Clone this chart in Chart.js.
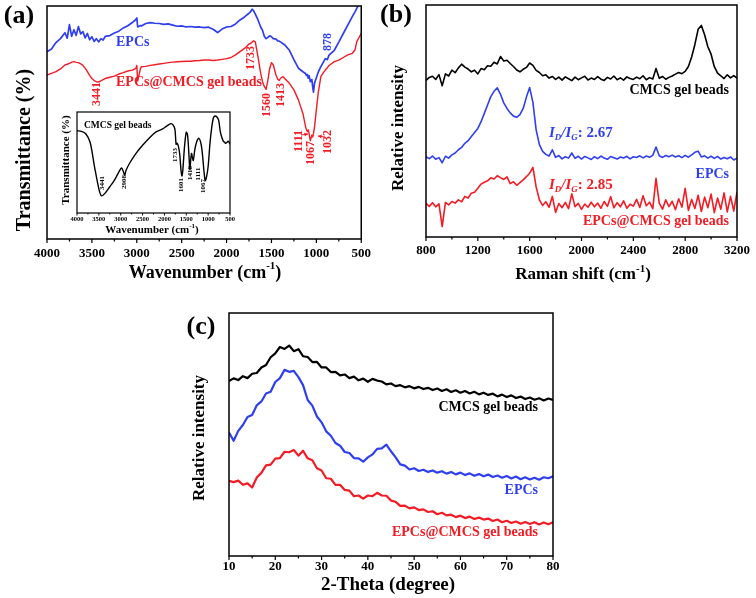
<!DOCTYPE html>
<html>
<head>
<meta charset="utf-8">
<title>FTIR, Raman and XRD of EPCs and EPCs@CMCS gel beads</title>
<script src="https://cdn.jsdelivr.net/npm/chart.js@4.4.1/dist/chart.umd.min.js"></script>
<style>
  body { margin: 0; background: #fff; }
  #fig { position: relative; width: 756px; height: 598px; overflow: hidden; }
  #fig canvas { position: absolute; }
</style>
</head>
<body>
<div id="fig">
  <canvas id="ftir" width="378" height="292" style="left:0;top:0"></canvas>
  <canvas id="inset" width="182" height="140" style="left:55px;top:100px"></canvas>
  <canvas id="raman" width="378" height="292" style="left:378px;top:0"></canvas>
  <canvas id="xrd" width="400" height="298" style="left:170px;top:300px"></canvas>
</div>
<script>
// (a) FTIR, transmittance on a 0-100 frame scale
const ftirWn = [4000, 3950, 3900, 3850, 3800, 3775, 3750, 3725, 3700, 3675,
  3650, 3625, 3600, 3575, 3550, 3525, 3500, 3475, 3450, 3425,
  3400, 3375, 3350, 3300, 3250, 3200, 3150, 3100, 3050, 3010,
  3000, 2990, 2960, 2950, 2900, 2850, 2800, 2750, 2700, 2650,
  2600, 2550, 2500, 2450, 2400, 2350, 2300, 2250, 2200, 2150,
  2100, 2050, 2000, 1950, 1900, 1850, 1800, 1750, 1733, 1715,
  1700, 1680, 1650, 1620, 1600, 1580, 1560, 1540, 1520, 1500,
  1480, 1450, 1430, 1413, 1400, 1370, 1350, 1300, 1250, 1200,
  1150, 1120, 1111, 1100, 1090, 1080, 1067, 1050, 1040, 1032,
  1020, 1000, 980, 950, 920, 900, 878, 860, 850, 800,
  750, 700, 650, 600, 570, 550, 520, 500];
const ftirEpcs = [80.4, 81.5, 84.3, 86.0, 88.5, 86.2, 92.0, 87.0, 89.8, 87.4,
  91.2, 88.0, 89.0, 86.3, 88.2, 85.5, 86.8, 84.8, 86.0, 84.6,
  85.9, 85.4, 87.0, 87.3, 88.4, 89.2, 90.6, 91.5, 92.9, 94.2,
  94.9, 91.0, 91.6, 91.4, 92.5, 92.9, 92.6, 92.5, 92.1, 92.3,
  91.8, 91.3, 91.5, 91.0, 91.2, 90.9, 91.0, 90.7, 90.9, 90.0,
  88.6, 90.1, 91.0, 91.2, 92.3, 94.0, 95.3, 96.9, 97.5, 98.6,
  98.0, 96.5, 94.0, 91.0, 89.6, 87.0, 86.0, 86.5, 87.2, 86.8,
  86.0, 85.8, 85.0, 84.9, 84.6, 83.8, 83.2, 81.0, 77.0, 73.3,
  71.8, 71.0, 70.2, 70.6, 69.0, 70.0, 67.5, 68.5, 65.0, 63.0,
  67.0, 69.2, 71.5, 74.0, 76.0, 77.4, 77.0, 78.8, 79.2, 81.0,
  84.5, 88.2, 91.8, 95.4, 97.5, 99.0, 101.0, 103.0];
const ftirBeads = [70.4, 71.1, 71.8, 73.0, 74.7, 75.0, 75.4, 75.9, 76.1, 75.8,
  75.7, 75.2, 74.5, 73.3, 71.8, 70.2, 68.9, 68.0, 67.5, 67.4,
  67.9, 68.4, 68.9, 69.4, 69.9, 70.8, 71.4, 72.1, 72.5, 73.2,
  74.5, 67.8, 73.0, 73.9, 74.1, 74.5, 74.8, 75.1, 75.4, 75.7,
  75.9, 76.1, 76.2, 76.3, 76.3, 76.5, 76.6, 76.8, 76.8, 76.6,
  76.8, 77.1, 77.4, 77.9, 79.0, 80.4, 81.8, 83.7, 83.9, 84.5,
  85.1, 84.6, 78.2, 71.1, 67.5, 65.5, 64.2, 68.1, 73.2, 75.7,
  74.8, 70.4, 68.6, 68.0, 69.0, 69.7, 68.8, 66.8, 64.0, 59.7,
  53.9, 48.2, 47.0, 46.1, 46.8, 45.0, 42.2, 44.6, 43.8, 45.3,
  48.2, 55.4, 62.5, 69.7, 71.5, 72.5, 73.5, 74.4, 74.7, 76.1,
  76.8, 77.9, 79.0, 79.7, 81.1, 84.7, 86.8, 88.3];

// inset: CMCS gel beads
const insetWn = [4000, 3900, 3800, 3700, 3600, 3500, 3441, 3350, 3250, 3150,
  3050, 2980, 2940, 2908, 2880, 2800, 2650, 2500, 2350, 2200,
  2050, 1950, 1850, 1800, 1760, 1733, 1710, 1680, 1650, 1620,
  1601, 1580, 1540, 1500, 1470, 1440, 1418, 1400, 1380, 1360,
  1340, 1300, 1250, 1210, 1170, 1140, 1111, 1090, 1067, 1040,
  1000, 960, 920, 880, 840, 800, 760, 720, 680, 650,
  620, 600, 570, 540, 520, 500];
const insetCmcs = [81.5, 80.8, 78.5, 70, 46, 24, 17, 20, 26, 32,
  40, 44.5, 41, 37.5, 42, 49, 59, 67, 74, 80,
  83, 86, 88.5, 87, 83, 68, 69, 66, 58, 42,
  36.5, 42, 66, 80, 77, 58, 43, 52, 59, 55,
  52, 64, 72, 74, 70, 62, 49, 39, 32, 35,
  46, 68, 84, 94, 96, 95, 92, 80, 74, 71,
  70, 69, 70, 71, 70, 68];
const ftirPeaks = ['3441', '1733', '1560', '1413', '1111', '1067', '1032'];
const insetPeaks = ['3441', '2908', '1733', '1601', '1418', '1111', '1067'];

// (b) Raman, every 25 cm-1 from 800 to 3200
const ramanFrom = 800, ramanStep = 25;
const ramanCmcs = [67.5, 68.8, 69.3, 67.9, 70.0, 65.2, 70.3, 69.4, 71.9, 70.8,
  72.9, 74.5, 73.2, 72.4, 71.2, 71.9, 70.3, 72.6, 72.1, 73.8,
  73.6, 75.3, 74.6, 77.8, 75.9, 76.2, 74.8, 73.5, 72.0, 71.2,
  72.3, 73.1, 75.0, 74.0, 71.8, 70.9, 69.5, 69.9, 68.5, 69.2,
  67.9, 68.9, 67.6, 69.0, 68.2, 67.4, 68.9, 67.8, 68.6, 69.3,
  67.7, 68.5, 67.9, 69.1, 68.0, 67.5, 68.8, 68.1, 69.4, 67.8,
  68.6, 67.6, 69.0, 68.3, 67.9, 68.9, 68.2, 69.5, 67.8, 68.7,
  68.1, 72.6, 68.4, 69.2, 68.0, 68.8, 69.4, 70.2, 70.9, 70.4,
  71.4, 73.5, 77.6, 83.0, 89.5, 91.2, 87.2, 82.0, 78.8, 73.4,
  70.6, 69.5, 68.3, 69.9, 68.6, 69.6, 68.5];
const ramanEpcs = [34.6, 33.8, 34.9, 33.5, 34.2, 32.0, 34.8, 34.0, 35.4, 36.2,
  37.6, 38.6, 40.4, 41.5, 43.3, 45.0, 46.8, 49.7, 53.3, 56.9,
  60.5, 62.8, 64.3, 61.5, 57.8, 55.4, 53.5, 52.1, 51.6, 52.7,
  55.4, 60.3, 64.4, 58.0, 46.2, 39.8, 36.9, 35.6, 34.9, 37.6,
  34.3, 35.1, 33.7, 34.6, 34.0, 36.2, 33.9, 34.8, 33.6, 34.7,
  34.1, 33.4, 34.6, 33.8, 34.9, 34.0, 33.5, 34.7, 34.2, 33.6,
  34.5, 34.0, 34.8, 33.7, 34.6, 34.3, 35.0, 34.1, 34.9, 34.4,
  35.2, 38.8, 35.0, 34.3, 35.1, 34.6, 35.3, 34.5, 35.0, 34.2,
  35.2, 34.4, 35.4, 36.5, 37.0, 34.5, 35.0, 34.0, 34.8, 33.9,
  34.7, 33.6, 34.3, 33.7, 34.5, 33.2, 34.0];
const ramanBeads = [14.5, 13.2, 14.8, 13.0, 14.3, 4.5, 14.9, 13.8, 15.3, 14.6,
  16.0, 15.2, 17.5, 16.8, 18.9, 19.3, 21.0, 22.8, 23.6, 24.2,
  25.5, 25.0, 26.4, 25.6, 24.8, 25.9, 23.0, 23.8, 22.3, 23.4,
  24.6, 26.0, 27.5, 30.0, 21.6, 16.0, 13.6, 15.2, 12.8, 17.5,
  10.6, 14.4, 12.6, 14.9, 12.2, 18.6, 13.1, 14.5, 11.9, 14.2,
  12.8, 15.0, 13.0, 14.6, 12.4, 15.3, 13.2, 17.4, 12.6, 14.8,
  13.0, 15.6, 12.4, 14.1, 13.3, 16.2, 12.7, 17.8, 13.5, 15.0,
  12.2, 25.3, 14.6, 12.0, 16.0, 13.1, 15.4, 11.8, 16.5, 12.9,
  21.0, 11.5, 16.2, 12.3, 18.0, 11.0, 17.2, 12.6, 18.5, 10.5,
  16.8, 12.0, 19.0, 10.8, 17.5, 11.2, 19.4];

// (c) XRD, every 1 degree from 10 to 80
const xrdFrom = 10, xrdStep = 1;
const xrdCmcs = [72.0, 73.1, 72.4, 74.0, 73.2, 75.0, 75.3, 77.6, 78.6, 81.8,
  83.4, 86.0, 85.2, 86.6, 84.3, 85.1, 82.2, 81.9, 79.8, 79.9,
  77.6, 77.6, 75.7, 75.8, 74.3, 74.7, 73.2, 73.8, 72.3, 73.0,
  71.7, 72.9, 72.2, 71.8, 70.6, 71.0, 69.9, 70.3, 69.4, 69.9,
  69.0, 69.6, 68.7, 69.2, 68.3, 68.9, 67.9, 68.6, 67.5, 68.2,
  67.2, 67.9, 66.9, 67.6, 66.5, 67.2, 66.3, 66.8, 65.7, 66.4,
  65.4, 66.1, 65.0, 65.6, 64.6, 65.2, 64.3, 64.9, 64.0, 64.8,
  64.2];
const xrdEpcs = [50.8, 47.4, 51.5, 53.9, 57.2, 58.0, 62.0, 63.6, 66.9, 67.6,
  71.6, 73.2, 76.6, 75.8, 76.2, 73.6, 70.3, 64.2, 61.9, 57.4,
  55.0, 51.3, 49.5, 46.5, 45.4, 42.8, 42.4, 40.3, 40.2, 38.8,
  40.6, 41.8, 44.1, 44.3, 45.8, 43.1, 40.6, 37.7, 37.2, 35.6,
  36.1, 35.0, 35.5, 34.6, 35.2, 34.3, 34.9, 33.9, 34.6, 33.6,
  34.3, 33.3, 34.0, 33.0, 33.7, 32.8, 33.5, 32.5, 33.1, 32.2,
  32.9, 31.9, 32.7, 31.6, 32.4, 31.5, 32.2, 31.4, 32.4, 32.0,
  32.8];
const xrdBeads = [30.9, 30.4, 31.0, 29.3, 29.9, 28.2, 32.3, 34.2, 37.3, 37.6,
  40.1, 40.3, 42.9, 42.7, 43.6, 41.3, 43.3, 40.2, 39.4, 36.1,
  35.2, 32.0, 31.8, 29.3, 29.3, 27.2, 26.9, 24.6, 24.9, 23.6,
  24.9, 24.6, 26.0, 24.9, 24.8, 22.8, 22.3, 20.6, 20.7, 19.6,
  20.0, 18.9, 19.2, 18.1, 18.4, 17.2, 17.8, 16.7, 17.0, 16.0,
  16.6, 15.6, 16.2, 15.2, 15.8, 15.0, 15.4, 14.4, 15.0, 13.9,
  14.5, 13.6, 14.2, 13.3, 14.0, 13.2, 13.9, 13.0, 13.8, 13.1,
  13.9];

const serif = "'Liberation Serif', 'Times New Roman', serif";
const BLUE = '#2f3ff0', RED = '#f31b24', BLACK = '#000';

const grid = (from, step, n) => Array.from({ length: n }, (_, i) => from + i * step);
const ramanShift = grid(ramanFrom, ramanStep, ramanCmcs.length);
const twoTheta = grid(xrdFrom, xrdStep, xrdCmcs.length);

// text with optional italic / sub / superscript pieces
function drawNote(ctx, n, origin) {
  ctx.save();
  ctx.fillStyle = n.color || BLACK;
  ctx.strokeStyle = n.color || BLACK;
  if (n.arrow) {
    const [x1, y1, x2, y2] = n.arrow.map((v, i) => v - origin[i % 2]);
    const ang = Math.atan2(y2 - y1, x2 - x1);
    ctx.lineWidth = 1;
    ctx.beginPath(); ctx.moveTo(x1, y1); ctx.lineTo(x2, y2); ctx.stroke();
    ctx.beginPath();
    ctx.moveTo(x2, y2);
    ctx.lineTo(x2 - 4 * Math.cos(ang - 0.5), y2 - 4 * Math.sin(ang - 0.5));
    ctx.lineTo(x2 - 4 * Math.cos(ang + 0.5), y2 - 4 * Math.sin(ang + 0.5));
    ctx.fill();
    ctx.restore();
    return;
  }
  const segs = typeof n.t === 'string' ? [{ s: n.t }] : n.t;
  const size = n.size;
  const fontOf = g => (g.it ? 'italic ' : '') + 'bold ' +
    ((g.sub || g.sup) ? Math.round(size * 0.62) : size) + 'px ' + serif;
  let total = 0;
  segs.forEach(g => { ctx.font = fontOf(g); g.w = ctx.measureText(g.s).width; total += g.w; });
  ctx.translate(n.x - origin[0], n.y - origin[1]);
  if (n.rot) ctx.rotate(n.rot * Math.PI / 180);
  ctx.textBaseline = 'middle';
  let x = n.align === 'left' ? 0 : n.align === 'right' ? -total : -total / 2;
  segs.forEach(g => {
    ctx.font = fontOf(g);
    const dy = g.sub ? size * 0.32 : g.sup ? -size * 0.36 : 0;
    ctx.fillText(g.s, x, dy);
    x += g.w;
  });
  ctx.restore();
}

// frame, major/minor ticks and the figure texts
const deco = {
  id: 'deco',
  afterDatasetsDraw(chart, args, o) {
    const { ctx, chartArea: a } = chart;
    const xs = chart.scales.x;
    ctx.save();
    ctx.strokeStyle = BLACK;
    ctx.lineWidth = o.frame;
    ctx.strokeRect(a.left, a.top, a.right - a.left, a.bottom - a.top);
    ctx.lineWidth = o.frame * 0.8;
    xs.ticks.forEach(t => {
      const px = xs.getPixelForValue(t.value);
      ctx.beginPath();
      ctx.moveTo(px, a.bottom);
      ctx.lineTo(px, a.bottom + (t.label === '' ? o.minor : o.major));
      ctx.stroke();
    });
    ctx.restore();
    (o.notes || []).forEach(n => drawNote(ctx, n, o.origin));
  }
};

function plot(id, c) {
  return new Chart(document.getElementById(id), {
    type: 'line',
    data: {
      datasets: c.series.map(s => ({
        data: s.xs.map((v, i) => ({ x: v, y: s.ys[i] })),
        borderColor: s.color,
        borderWidth: s.lw || c.lw,
        borderJoinStyle: 'round',
        pointRadius: 0,
        tension: c.tension || 0,
        fill: false
      }))
    },
    options: {
      responsive: false,
      animation: false,
      events: [],
      layout: { padding: c.padding },
      plugins: {
        legend: { display: false },
        tooltip: { enabled: false },
        deco: { frame: c.frame, major: c.major, minor: c.minor, origin: c.origin, notes: c.notes }
      },
      scales: {
        x: {
          type: 'linear', min: c.min, max: c.max, reverse: !!c.reverse,
          grid: { display: false, drawTicks: false },
          border: { display: false },
          ticks: {
            stepSize: c.step, autoSkip: false, maxRotation: 0, minRotation: 0,
            padding: c.tickPad, color: BLACK,
            font: { family: serif, weight: 'bold', size: c.tickSize },
            callback: v => (v % c.labelEvery === 0 ? String(v) : '')
          },
          afterFit: s => { s.height = c.axisHeight; }
        },
        y: { display: false, min: 0, max: 100 }
      }
    },
    plugins: [deco]
  });
}

const cm = [{ s: '(cm' }, { s: '-1', sup: true }, { s: ')' }];
const rot = (t, x, y, color, size) => ({ t, x, y, color, size, rot: -90 });

plot('ftir', {
  min: 500, max: 4000, reverse: true, step: 250, labelEvery: 500,
  padding: { left: 47, right: 15, top: 6, bottom: 0 }, axisHeight: 53,
  tickPad: 7, tickSize: 13, frame: 1.5, major: 4, minor: 2.5, lw: 1.4,
  origin: [0, 0],
  series: [
    { xs: ftirWn, ys: ftirEpcs, color: BLUE, lw: 1.7 },
    { xs: ftirWn, ys: ftirBeads, color: RED }
  ],
  notes: [
    { t: '(a)', x: 19, y: 16, size: 26 },
    rot('Transmittance (%)', 25, 150, BLACK, 20),
    { t: [{ s: 'Wavenumber ' }].concat(cm), x: 205, y: 273, size: 18 },
    { t: 'EPCs', x: 116, y: 42, size: 14, color: BLUE, align: 'left' },
    { t: 'EPCs@CMCS gel beads', x: 116, y: 82, size: 14, color: RED, align: 'left' },
    rot(ftirPeaks[0], 97, 94, RED, 12),
    rot(ftirPeaks[1], 251, 58, RED, 12),
    rot(ftirPeaks[2], 267, 105, RED, 12),
    rot(ftirPeaks[3], 281, 95, RED, 12),
    rot(ftirPeaks[4], 299, 141, RED, 12),
    rot(ftirPeaks[5], 311, 153, RED, 12),
    rot(ftirPeaks[6], 328, 142, RED, 12),
    rot('878', 328, 42, BLUE, 12),
    { arrow: [301, 135, 308, 134], color: RED },
    { arrow: [325, 137, 318, 136], color: RED }
  ]
});

plot('inset', {
  min: 500, max: 4000, reverse: true, step: 250, labelEvery: 500,
  padding: { left: 22, right: 7, top: 12, bottom: 0 }, axisHeight: 27,
  tickPad: 2, tickSize: 6.5, frame: 1.2, major: 2.5, minor: 1.5, lw: 1.4, tension: 0.3,
  origin: [55, 100],
  series: [{ xs: insetWn, ys: insetCmcs, color: BLACK }],
  notes: [
    { t: 'CMCS gel beads', x: 84, y: 126, size: 9.5, align: 'left' },
    rot('Transmittance (%)', 66, 160, BLACK, 11),
    { t: [{ s: 'Wavenumber ' }].concat(cm), x: 152, y: 230, size: 11 },
    rot(insetPeaks[0], 102, 183, BLACK, 7),
    rot(insetPeaks[1], 124, 182, BLACK, 7),
    rot(insetPeaks[2], 175, 155, BLACK, 7),
    rot(insetPeaks[3], 181, 185, BLACK, 7),
    rot(insetPeaks[4], 190, 173, BLACK, 7),
    rot(insetPeaks[5], 198, 174, BLACK, 7),
    rot(insetPeaks[6], 203, 186, BLACK, 7)
  ]
});

const ratio = (val) => [{ s: 'I', it: true }, { s: 'D', it: true, sub: true }, { s: '/', it: true },
  { s: 'I', it: true }, { s: 'G', it: true, sub: true }, { s: ': ' + val }];

plot('raman', {
  min: 800, max: 3200, step: 200, labelEvery: 400,
  padding: { left: 48, right: 15, top: 5, bottom: 0 }, axisHeight: 55,
  tickPad: 6, tickSize: 13, frame: 1.5, major: 4, minor: 2.5, lw: 1.6,
  origin: [378, 0],
  series: [
    { xs: ramanShift, ys: ramanCmcs, color: BLACK },
    { xs: ramanShift, ys: ramanEpcs, color: BLUE },
    { xs: ramanShift, ys: ramanBeads, color: RED }
  ],
  notes: [
    { t: '(b)', x: 396, y: 15, size: 26 },
    rot('Relative intensity', 399, 128, BLACK, 17),
    { t: [{ s: 'Raman shift ' }].concat(cm), x: 583, y: 275, size: 17 },
    { t: 'CMCS gel beads', x: 729, y: 90, size: 14, align: 'right' },
    { t: 'EPCs', x: 729, y: 174, size: 14, color: BLUE, align: 'right' },
    { t: 'EPCs@CMCS gel beads', x: 729, y: 221, size: 14, color: RED, align: 'right' },
    { t: ratio('2.67'), x: 549, y: 133, size: 15, color: BLUE, align: 'left' },
    { t: ratio('2.85'), x: 549, y: 185, size: 15, color: RED, align: 'left' }
  ]
});

plot('xrd', {
  min: 10, max: 80, step: 5, labelEvery: 10,
  padding: { left: 59, right: 17, top: 13, bottom: 0 }, axisHeight: 42,
  tickPad: 3, tickSize: 13, frame: 1.5, major: 4, minor: 2.5, lw: 2.2,
  origin: [170, 300],
  series: [
    { xs: twoTheta, ys: xrdCmcs, color: BLACK },
    { xs: twoTheta, ys: xrdEpcs, color: BLUE },
    { xs: twoTheta, ys: xrdBeads, color: RED }
  ],
  notes: [
    { t: '(c)', x: 201, y: 327, size: 26 },
    rot('Relative intensity', 200, 438, BLACK, 17),
    { t: '2-Theta (degree)', x: 388, y: 585, size: 19 },
    { t: 'CMCS gel beads', x: 538, y: 407, size: 14, align: 'right' },
    { t: 'EPCs', x: 538, y: 490, size: 14, color: BLUE, align: 'right' },
    { t: 'EPCs@CMCS gel beads', x: 538, y: 532, size: 14, color: RED, align: 'right' }
  ]
});
</script>
</body>
</html>
